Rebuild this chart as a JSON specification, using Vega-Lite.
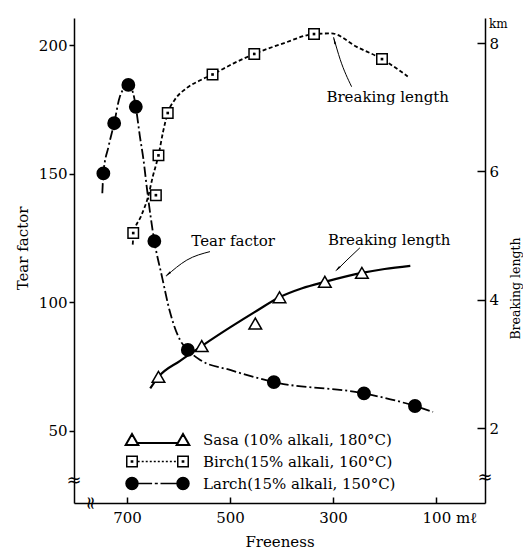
{
  "$schema": "https://vega.github.io/schema/vega-lite/v6.json",
  "width": 411,
  "height": 485,
  "autosize": {"type": "none"},
  "padding": {"left": 74, "top": 18, "right": 38, "bottom": 48},
  "background": "white",
  "title": {"text": "km", "anchor": "end", "frame": "group", "align": "left", "dx": 4, "dy": 22, "offset": 0, "baseline": "alphabetic", "font": "DejaVu Serif", "fontSize": 12, "fontWeight": "normal", "color": "black"},
  "config": {
    "view": {"stroke": null},
    "axis": {"grid": false, "domainColor": "black", "domainWidth": 1.5, "tickColor": "black", "tickWidth": 1.5, "labelColor": "black", "titleColor": "black", "labelFont": "DejaVu Serif", "titleFont": "DejaVu Serif", "labelFontSize": 15, "titleFontSize": 15, "titleFontWeight": "normal"}
  },
  "datasets": {
    "points": [
      {"series": "Larch", "freeness": 746, "value": 150.1},
      {"series": "Larch", "freeness": 725, "value": 169.6},
      {"series": "Larch", "freeness": 697.5, "value": 184.5},
      {"series": "Larch", "freeness": 683, "value": 176},
      {"series": "Larch", "freeness": 647, "value": 123.8},
      {"series": "Larch", "freeness": 582, "value": 81.5},
      {"series": "Larch", "freeness": 415, "value": 69},
      {"series": "Larch", "freeness": 240, "value": 64.6},
      {"series": "Larch", "freeness": 141, "value": 59.7},
      {"series": "Birch", "freeness": 688, "value": 5.04},
      {"series": "Birch", "freeness": 644, "value": 5.63},
      {"series": "Birch", "freeness": 639, "value": 6.25},
      {"series": "Birch", "freeness": 621, "value": 6.91},
      {"series": "Birch", "freeness": 534, "value": 7.51},
      {"series": "Birch", "freeness": 453, "value": 7.83},
      {"series": "Birch", "freeness": 337, "value": 8.14},
      {"series": "Birch", "freeness": 205, "value": 7.75},
      {"series": "Sasa", "freeness": 639, "value": 2.8},
      {"series": "Sasa", "freeness": 555, "value": 3.28},
      {"series": "Sasa", "freeness": 451, "value": 3.63},
      {"series": "Sasa", "freeness": 404, "value": 4.04},
      {"series": "Sasa", "freeness": 316, "value": 4.28},
      {"series": "Sasa", "freeness": 244, "value": 4.42}
    ],
    "curves": [
      {"series": "Larch", "freeness": 748, "value": 142.4},
      {"series": "Larch", "freeness": 746, "value": 150.1},
      {"series": "Larch", "freeness": 736, "value": 160.5},
      {"series": "Larch", "freeness": 725, "value": 169.6},
      {"series": "Larch", "freeness": 714, "value": 179.9},
      {"series": "Larch", "freeness": 697.5, "value": 184.5},
      {"series": "Larch", "freeness": 688, "value": 181.2},
      {"series": "Larch", "freeness": 683, "value": 176},
      {"series": "Larch", "freeness": 675, "value": 164.4},
      {"series": "Larch", "freeness": 668, "value": 155.3},
      {"series": "Larch", "freeness": 661, "value": 143.6},
      {"series": "Larch", "freeness": 647, "value": 123.8},
      {"series": "Larch", "freeness": 632, "value": 109.8},
      {"series": "Larch", "freeness": 617, "value": 96.5},
      {"series": "Larch", "freeness": 597, "value": 85.3},
      {"series": "Larch", "freeness": 582, "value": 81.5},
      {"series": "Larch", "freeness": 558, "value": 77.6},
      {"series": "Larch", "freeness": 500, "value": 73.7},
      {"series": "Larch", "freeness": 415, "value": 69},
      {"series": "Larch", "freeness": 240, "value": 64.6},
      {"series": "Larch", "freeness": 141, "value": 59.7},
      {"series": "Larch", "freeness": 106, "value": 57.4},
      {"series": "Birch", "freeness": 689, "value": 4.86},
      {"series": "Birch", "freeness": 687, "value": 5.04},
      {"series": "Birch", "freeness": 673, "value": 5.3},
      {"series": "Birch", "freeness": 659, "value": 5.61},
      {"series": "Birch", "freeness": 650, "value": 5.92},
      {"series": "Birch", "freeness": 639, "value": 6.25},
      {"series": "Birch", "freeness": 630, "value": 6.62},
      {"series": "Birch", "freeness": 621, "value": 6.91},
      {"series": "Birch", "freeness": 607, "value": 7.12},
      {"series": "Birch", "freeness": 584, "value": 7.3},
      {"series": "Birch", "freeness": 558, "value": 7.42},
      {"series": "Birch", "freeness": 534, "value": 7.51},
      {"series": "Birch", "freeness": 494, "value": 7.68},
      {"series": "Birch", "freeness": 453, "value": 7.83},
      {"series": "Birch", "freeness": 395, "value": 8.0},
      {"series": "Birch", "freeness": 337, "value": 8.14},
      {"series": "Birch", "freeness": 303, "value": 8.15},
      {"series": "Birch", "freeness": 254, "value": 7.94},
      {"series": "Birch", "freeness": 205, "value": 7.75},
      {"series": "Birch", "freeness": 155, "value": 7.48},
      {"series": "Sasa", "freeness": 655, "value": 2.62},
      {"series": "Sasa", "freeness": 639, "value": 2.8},
      {"series": "Sasa", "freeness": 597, "value": 3.05},
      {"series": "Sasa", "freeness": 555, "value": 3.28},
      {"series": "Sasa", "freeness": 500, "value": 3.57},
      {"series": "Sasa", "freeness": 448, "value": 3.83},
      {"series": "Sasa", "freeness": 404, "value": 4.04},
      {"series": "Sasa", "freeness": 360, "value": 4.18},
      {"series": "Sasa", "freeness": 316, "value": 4.28},
      {"series": "Sasa", "freeness": 244, "value": 4.42},
      {"series": "Sasa", "freeness": 200, "value": 4.48},
      {"series": "Sasa", "freeness": 150, "value": 4.53}
    ],
    "notes": [
      {"axis": "left", "label": "Tear factor", "freeness": 494, "value": 124},
      {"axis": "right", "label": "Breaking length", "freeness": 194, "value": 7.16},
      {"axis": "right", "label": "Breaking length", "freeness": 191, "value": 4.93}
    ],
    "arrows": [
      {"arrow": "tear", "freeness": 539, "value": 119.7},
      {"arrow": "tear", "freeness": 584, "value": 116.4},
      {"arrow": "tear", "freeness": 624, "value": 110.2},
      {"arrow": "up", "freeness": 264, "value": 7.32},
      {"arrow": "up", "freeness": 286, "value": 7.74},
      {"arrow": "up", "freeness": 299, "value": 8.09},
      {"arrow": "low", "freeness": 248, "value": 4.81},
      {"arrow": "low", "freeness": 273, "value": 4.62},
      {"arrow": "low", "freeness": 293, "value": 4.46}
    ],
    "heads": [
      {"arrow": "tear", "freeness": 619, "value": 111.2},
      {"arrow": "up", "freeness": 297, "value": 8.02},
      {"arrow": "low", "freeness": 290, "value": 4.49}
    ],
    "breaks": [
      {"axis": "left", "label": "≈", "freeness": 803, "value": 30.5},
      {"axis": "bottom", "label": "≈", "freeness": 772, "value": 22.0},
      {"axis": "right", "label": "≈", "freeness": 5, "value": 1.22}
    ]
  },
  "encoding": {
    "x": {
      "field": "freeness", "type": "quantitative",
      "scale": {"domain": [5, 803], "reverse": true, "nice": false, "zero": false},
      "axis": {
        "orient": "bottom", "values": [700, 500, 300, 100], "title": "Freeness",
        "tickSize": -6, "labelPadding": 13, "titlePadding": 9,
        "labelExpr": "datum.value == 100 ? '100 mℓ' : datum.label",
        "labelAlign": {"condition": {"test": "datum.value == 100", "value": "left"}, "value": "center"},
        "labelOffset": {"condition": {"test": "datum.value == 100", "value": -14}, "value": 0}
      }
    }
  },
  "layer": [
    {
      "encoding": {
        "y": {
          "field": "value", "type": "quantitative",
          "scale": {"domain": [22.0, 210.5], "nice": false, "zero": false},
          "axis": {"orient": "left", "values": [50, 100, 150, 200], "title": "Tear factor", "tickSize": 5, "labelPadding": 2, "titleX": -52, "titleY": 230, "titleAngle": -90, "titleBaseline": "middle"}
        }
      },
      "layer": [
        {"data": {"name": "curves"}, "transform": [{"filter": "datum.series == 'Larch'"}],
         "mark": {"type": "line", "interpolate": "monotone", "color": "black", "strokeWidth": 1.8, "strokeDash": [10, 3, 2, 3]},
         "encoding": {"order": {"field": "freeness", "sort": "descending"}}},
        {"data": {"name": "points"}, "transform": [{"filter": "datum.series == 'Larch'"}],
         "mark": {"type": "point", "filled": true, "stroke": "black", "size": 140, "opacity": 1},
         "encoding": {"fill": {"field": "series", "type": "nominal",
           "scale": {"domain": ["Sasa", "Birch", "Larch"], "range": ["white", "white", "black"]},
           "legend": {
             "title": null, "orient": "none", "legendX": 76, "legendY": 414,
             "labelFont": "DejaVu Serif", "labelFontSize": 15, "labelColor": "black", "labelLimit": 400, "labelOffset": 38,
             "rowPadding": 4, "symbolSize": 144, "symbolStrokeColor": "black", "symbolOpacity": 1,
             "symbolStrokeWidth": {"expr": "datum.value == 'Sasa' ? 2 : 1.5"},
             "symbolType": {"expr": "datum.value == 'Sasa' ? 'M-5.3,0.91L-3.2,0.91L-4.25,-0.91Z M3.2,0.91L5.3,0.91L4.25,-0.91Z M-3.38,0.6H3.38' : datum.value == 'Birch' ? 'M-5.125,-0.875H-3.375V0.875H-5.125Z M3.375,-0.875H5.125V0.875H3.375Z M-4.35,-0.1H-4.15V0.1H-4.35Z M4.15,-0.1H4.35V0.1H4.15Z M-3.3,0H-2.97 M-2.63,0H-2.3 M-1.96,0H-1.63 M-1.29,0H-0.96 M-0.62,0H-0.29 M0.05,0H0.38 M0.72,0H1.05 M1.39,0H1.72 M2.06,0H2.39 M2.73,0H3.06' : 'M-5.25,0A1,1,0,1,0,-3.25,0A1,1,0,1,0,-5.25,0Z M3.25,0A1,1,0,1,0,5.25,0A1,1,0,1,0,3.25,0Z M-3.25,0H-0.9 M-0.45,0H0.05 M0.5,0H3.25'"},
             "labelExpr": "datum.value == 'Sasa' ? 'Sasa (10% alkali, 180°C)' : datum.value == 'Birch' ? 'Birch(15% alkali, 160°C)' : 'Larch(15% alkali, 150°C)'"
           }}}},
        {"data": {"name": "arrows"}, "transform": [{"filter": "datum.arrow == 'tear'"}],
         "mark": {"type": "line", "interpolate": "monotone", "color": "black", "strokeWidth": 1},
         "encoding": {"order": {"field": "freeness", "sort": "descending"}}},
        {"data": {"name": "heads"}, "transform": [{"filter": "datum.arrow == 'tear'"}],
         "mark": {"type": "point", "shape": "wedge", "angle": 232, "size": 60, "filled": true, "color": "black", "opacity": 1}},
        {"data": {"name": "notes"}, "transform": [{"filter": "datum.axis == 'left'"}],
         "mark": {"type": "text", "font": "DejaVu Serif", "fontSize": 15, "color": "black"},
         "encoding": {"text": {"field": "label"}}},
        {"data": {"name": "breaks"}, "transform": [{"filter": "datum.axis == 'left'"}],
         "mark": {"type": "text", "font": "DejaVu Serif", "fontSize": 18, "color": "black", "baseline": "middle"},
         "encoding": {"text": {"field": "label"}}},
        {"data": {"name": "breaks"}, "transform": [{"filter": "datum.axis == 'bottom'"}],
         "mark": {"type": "text", "font": "DejaVu Serif", "fontSize": 18, "color": "black", "baseline": "middle", "angle": 90},
         "encoding": {"text": {"field": "label"}}}
      ]
    },
    {
      "encoding": {
        "y": {
          "field": "value", "type": "quantitative",
          "scale": {"domain": [0.835, 8.39], "nice": false, "zero": false},
          "axis": {"orient": "right", "values": [2, 4, 6, 8], "title": "Breaking length", "tickSize": -8, "labelPadding": 12, "titleX": 30, "titleY": 270, "titleAngle": -90, "titleBaseline": "middle", "titleFontSize": 12.5}
        }
      },
      "layer": [
        {"data": {"name": "curves"}, "transform": [{"filter": "datum.series == 'Birch'"}],
         "mark": {"type": "line", "interpolate": "monotone", "color": "black", "strokeWidth": 1.8, "strokeDash": [4, 2.5]},
         "encoding": {"order": {"field": "freeness", "sort": "descending"}}},
        {"data": {"name": "curves"}, "transform": [{"filter": "datum.series == 'Sasa'"}],
         "mark": {"type": "line", "interpolate": "monotone", "color": "black", "strokeWidth": 2.2},
         "encoding": {"order": {"field": "freeness", "sort": "descending"}}},
        {"data": {"name": "points"}, "transform": [{"filter": "datum.series == 'Birch'"}],
         "mark": {"type": "point", "shape": "square", "filled": true, "fill": "white", "stroke": "black", "strokeWidth": 1.5, "size": 110, "opacity": 1}},
        {"data": {"name": "points"}, "transform": [{"filter": "datum.series == 'Birch'"}],
         "mark": {"type": "point", "shape": "square", "filled": true, "color": "black", "size": 7, "opacity": 1}},
        {"data": {"name": "points"}, "transform": [{"filter": "datum.series == 'Sasa'"}],
         "mark": {"type": "point", "shape": "triangle-up", "filled": true, "fill": "white", "stroke": "black", "strokeWidth": 1.5, "size": 160, "opacity": 1}},
        {"data": {"name": "arrows"}, "transform": [{"filter": "datum.arrow != 'tear'"}],
         "mark": {"type": "line", "interpolate": "monotone", "color": "black", "strokeWidth": 1},
         "encoding": {"detail": {"field": "arrow"}, "order": {"field": "freeness", "sort": "descending"}}},
        {"data": {"name": "heads"}, "transform": [{"filter": "datum.arrow == 'up'"}],
         "mark": {"type": "point", "shape": "wedge", "angle": 344, "size": 60, "filled": true, "color": "black", "opacity": 1}},
        {"data": {"name": "heads"}, "transform": [{"filter": "datum.arrow == 'low'"}],
         "mark": {"type": "point", "shape": "wedge", "angle": 226, "size": 60, "filled": true, "color": "black", "opacity": 1}},
        {"data": {"name": "notes"}, "transform": [{"filter": "datum.axis == 'right'"}],
         "mark": {"type": "text", "font": "DejaVu Serif", "fontSize": 15, "color": "black"},
         "encoding": {"text": {"field": "label"}}},
        {"data": {"name": "breaks"}, "transform": [{"filter": "datum.axis == 'right'"}],
         "mark": {"type": "text", "font": "DejaVu Serif", "fontSize": 18, "color": "black", "baseline": "middle"},
         "encoding": {"text": {"field": "label"}}}
      ]
    }
  ],
  "resolve": {"scale": {"y": "independent"}}
}
